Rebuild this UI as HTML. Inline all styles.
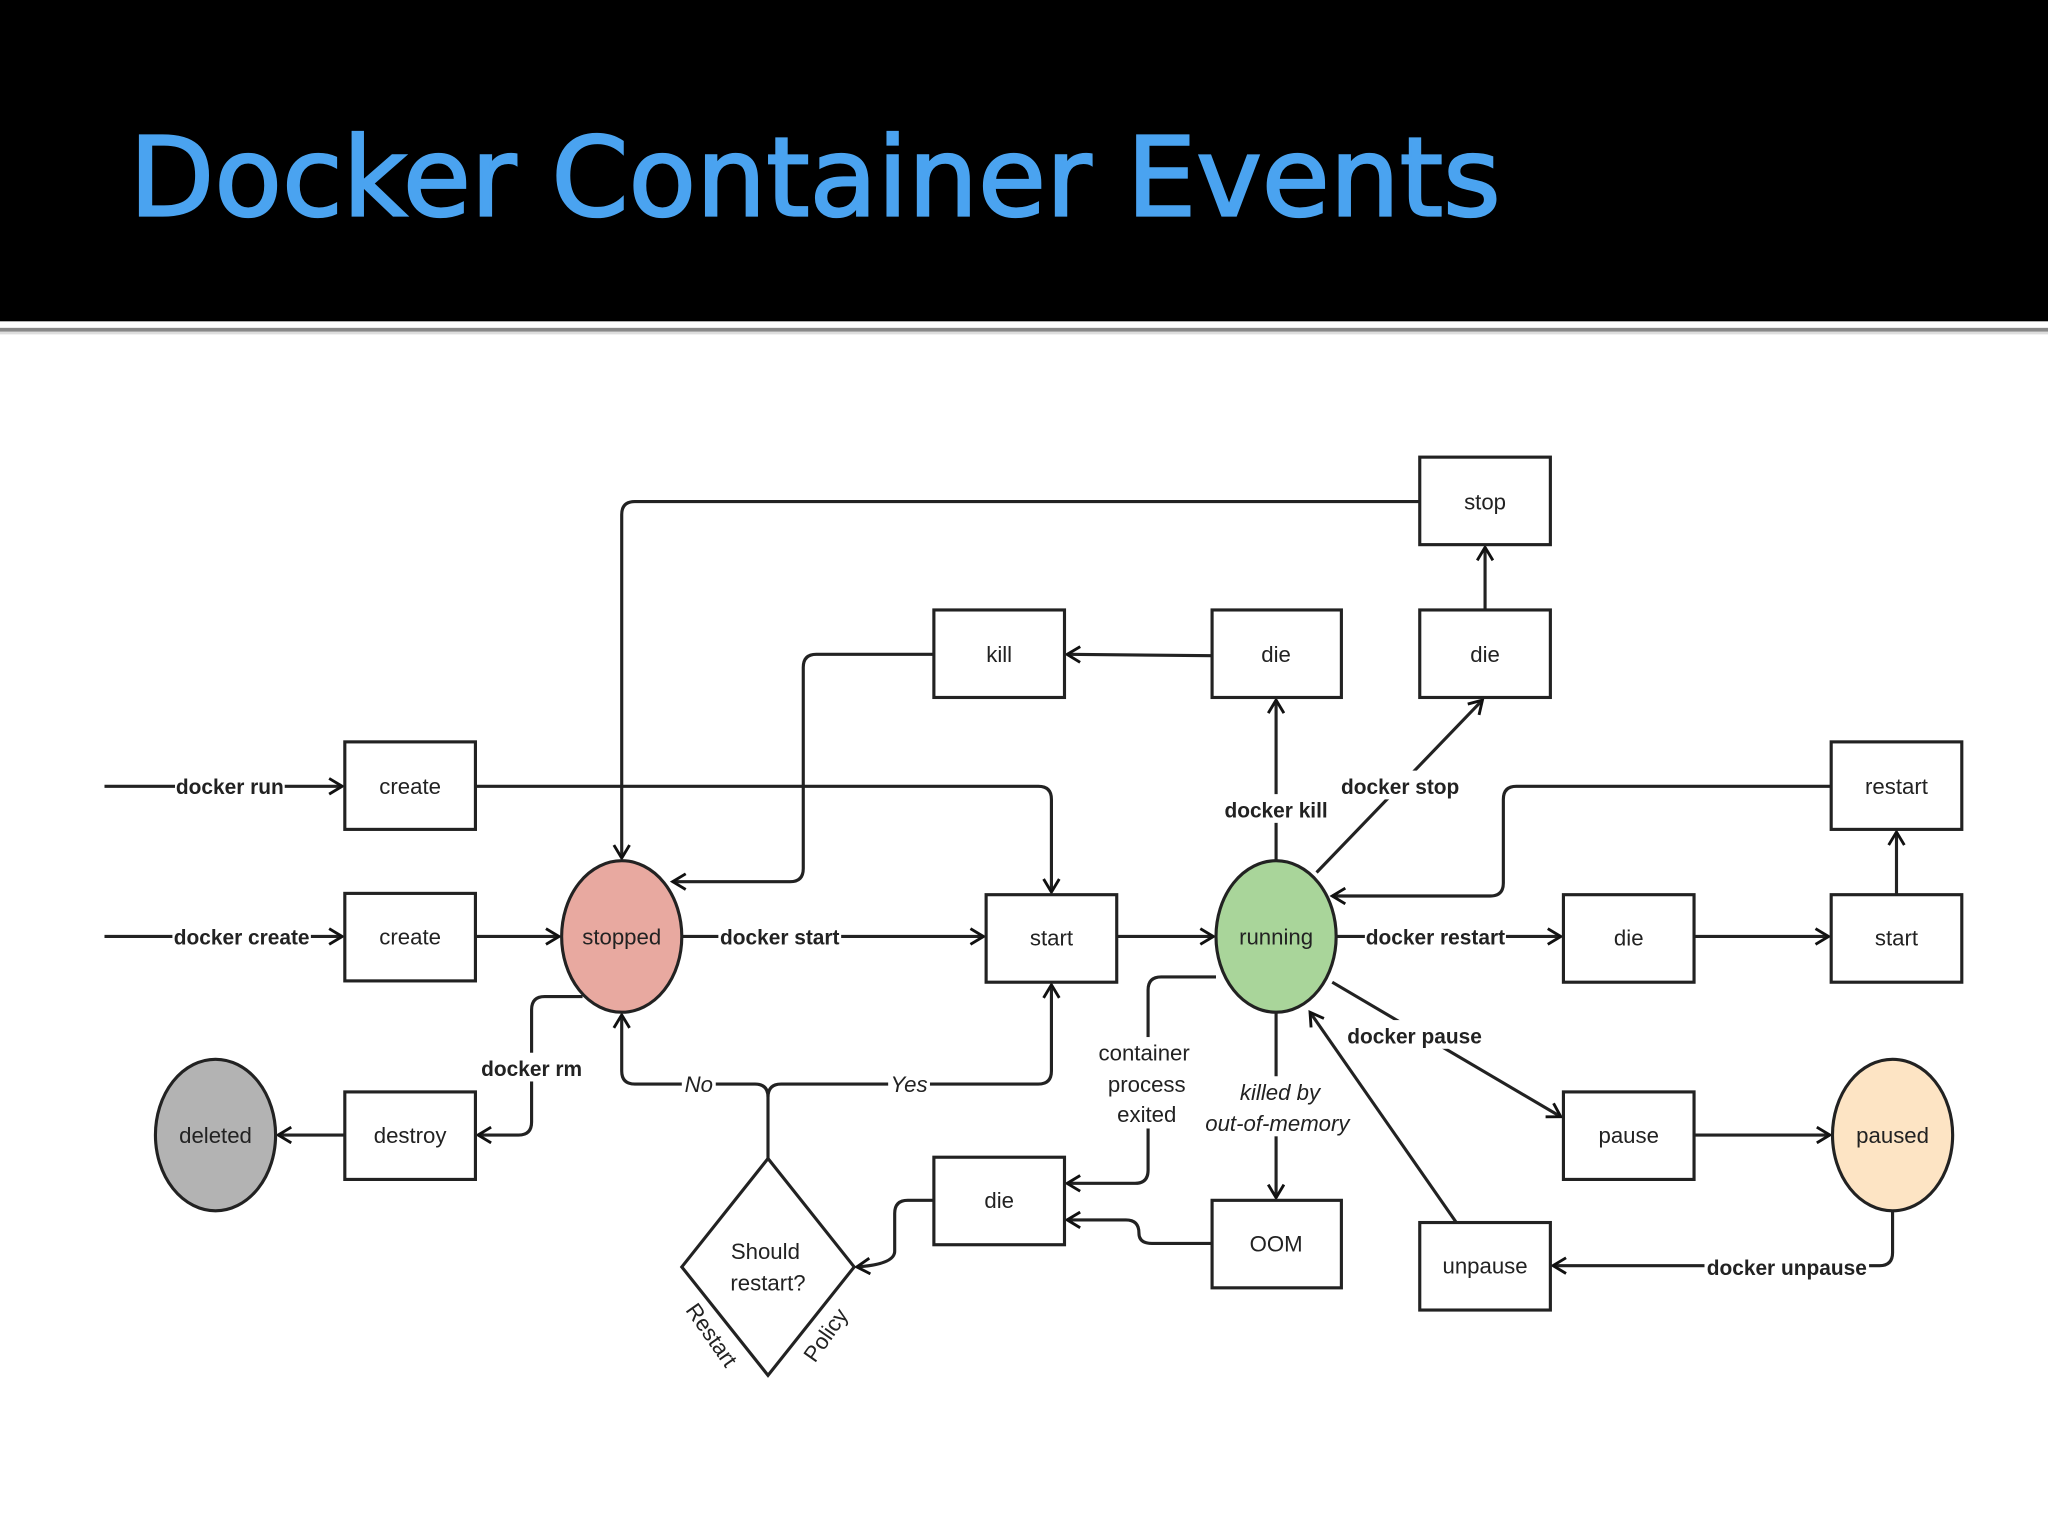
<!DOCTYPE html>
<html><head><meta charset="utf-8"><style>
html,body{margin:0;padding:0;background:#fff}
svg{display:block}
text{font-family:"Liberation Sans",sans-serif;font-size:17px;fill:#222}
.b{font-weight:bold;font-size:16px}
.i{font-style:italic}
</style></head><body>
<svg width="2048" height="1536" viewBox="0 0 1568 1176" xmlns="http://www.w3.org/2000/svg">
<defs>
<marker id="a" markerWidth="14" markerHeight="14" refX="11" refY="7" orient="auto" markerUnits="userSpaceOnUse">
<path d="M1,1 L11,7 L1,13" fill="none" stroke="#111" stroke-width="2.2"/>
</marker>
</defs>
<rect x="0" y="0" width="1568" height="246" fill="#000"/>
<rect x="0" y="251" width="1568" height="3" fill="#888"/>
<rect x="0" y="254" width="1568" height="2" fill="#ddd"/>
<text x="99" y="165" style="font-family:'DejaVu Sans',sans-serif;font-size:84px;fill:#4aa3f0;stroke:#4aa3f0;stroke-width:1.8" textLength="1050" lengthAdjust="spacingAndGlyphs">Docker  Container Events</text>

<g fill="none" stroke="#222" stroke-width="2.4">
<path d="M80,602 H262" marker-end="url(#a)"/>
<path d="M364,602 H795 Q805,602 805,612 V683" marker-end="url(#a)"/>
<path d="M80,717 H262" marker-end="url(#a)"/>
<path d="M364,717 H428" marker-end="url(#a)"/>
<path d="M522,717 H753" marker-end="url(#a)"/>
<path d="M855,717 H929" marker-end="url(#a)"/>
<path d="M1023,717 H1195" marker-end="url(#a)"/>
<path d="M1297,717 H1400" marker-end="url(#a)"/>
<path d="M1452,685 V637" marker-end="url(#a)"/>
<path d="M1402,602 H1161 Q1151,602 1151,612 V676 Q1151,686 1141,686 H1020" marker-end="url(#a)"/>
<path d="M977,659 V536" marker-end="url(#a)"/>
<path d="M928,502 L817,501" marker-end="url(#a)"/>
<path d="M715,501 H625 Q615,501 615,511 V665 Q615,675 605,675 H515" marker-end="url(#a)"/>
<path d="M1008,668 L1135,536" marker-end="url(#a)"/>
<path d="M1137,467 V419" marker-end="url(#a)"/>
<path d="M1087,384 H486 Q476,384 476,394 V657" marker-end="url(#a)"/>
<path d="M446,763 H417 Q407,763 407,773 V859 Q407,869 397,869 H366" marker-end="url(#a)"/>
<path d="M264,869 H213" marker-end="url(#a)"/>
<path d="M1020,752 L1195,855" marker-end="url(#a)"/>
<path d="M1297,869 H1401" marker-end="url(#a)"/>
<path d="M1449,927 V959 Q1449,969 1439,969 H1189" marker-end="url(#a)"/>
<path d="M1115,936 L1003,775" marker-end="url(#a)"/>
<path d="M977,775 V917" marker-end="url(#a)"/>
<path d="M931,748 H889 Q879,748 879,758 V896 Q879,906 869,906 H817" marker-end="url(#a)"/>
<path d="M928,952 H882 Q872,952 872,944 Q872,934 862,934 H817" marker-end="url(#a)"/>
<path d="M715,919 H695 Q685,919 685,929 V958 Q685,968 656,970" marker-end="url(#a)"/>
<path d="M588,887 V840 Q588,830 598,830 H795 Q805,830 805,820 V754" marker-end="url(#a)"/>
<path d="M588,840 Q588,830 578,830 H486 Q476,830 476,820 V777" marker-end="url(#a)"/>
</g>

<g fill="#fff" stroke="#222" stroke-width="2.4">
<rect x="1087" y="350" width="100" height="67"/>
<rect x="928" y="467" width="99" height="67"/>
<rect x="1087" y="467" width="100" height="67"/>
<rect x="715" y="467" width="100" height="67"/>
<rect x="264" y="568" width="100" height="67"/>
<rect x="1402" y="568" width="100" height="67"/>
<rect x="264" y="684" width="100" height="67"/>
<rect x="755" y="685" width="100" height="67"/>
<rect x="1197" y="685" width="100" height="67"/>
<rect x="1402" y="685" width="100" height="67"/>
<rect x="264" y="836" width="100" height="67"/>
<rect x="1197" y="836" width="100" height="67"/>
<rect x="715" y="886" width="100" height="67"/>
<rect x="928" y="919" width="99" height="67"/>
<rect x="1087" y="936" width="100" height="67"/>
<path d="M588,887 L654,970 L588,1053 L522,970 Z"/>
<ellipse cx="476" cy="717" rx="46" ry="58" fill="#e8a9a0"/>
<ellipse cx="977" cy="717" rx="46" ry="58" fill="#a9d59a"/>
<ellipse cx="165" cy="869" rx="46" ry="58" fill="#b3b3b3"/>
<ellipse cx="1449" cy="869" rx="46" ry="58" fill="#fde4c4"/>
</g>

<g text-anchor="middle">
<text x="1137" y="390">stop</text>
<text x="977" y="507">die</text>
<text x="1137" y="507">die</text>
<text x="765" y="507">kill</text>
<text x="314" y="608">create</text>
<text x="1452" y="608">restart</text>
<text x="314" y="723">create</text>
<text x="805" y="724">start</text>
<text x="1247" y="724">die</text>
<text x="1452" y="724">start</text>
<text x="314" y="875">destroy</text>
<text x="1247" y="875">pause</text>
<text x="765" y="925">die</text>
<text x="977" y="958">OOM</text>
<text x="1137" y="975">unpause</text>
<text x="476" y="723">stopped</text>
<text x="977" y="723">running</text>
<text x="165" y="875">deleted</text>
<text x="1449" y="875">paused</text>
<text x="586" y="964">Should</text>
<text x="588" y="988">restart?</text>
</g>

<g text-anchor="middle">
<rect x="134" y="590" width="84" height="22" fill="#fff"/>
<text x="176" y="608" class="b">docker run</text>
<rect x="132" y="705" width="106" height="22" fill="#fff"/>
<text x="185" y="723" class="b">docker create</text>
<rect x="550" y="705" width="94" height="22" fill="#fff"/>
<text x="597" y="723" class="b">docker start</text>
<rect x="1045" y="705" width="108" height="22" fill="#fff"/>
<text x="1099" y="723" class="b">docker restart</text>
<rect x="937" y="608" width="80" height="22" fill="#fff"/>
<text x="977" y="626" class="b">docker kill</text>
<rect x="1027" y="590" width="90" height="22" fill="#fff"/>
<text x="1072" y="608" class="b">docker stop</text>
<rect x="367" y="806" width="80" height="22" fill="#fff"/>
<text x="407" y="824" class="b">docker rm</text>
<rect x="1032" y="781" width="104" height="22" fill="#fff"/>
<text x="1083" y="799" class="b">docker pause</text>
<rect x="1305" y="958" width="126" height="22" fill="#fff"/>
<text x="1368" y="976" class="b">docker unpause</text>
</g>
<g text-anchor="middle">
<rect x="838" y="794" width="80" height="70" fill="#fff"/>
<text x="876" y="812">container</text>
<text x="878" y="836">process</text>
<text x="878" y="859">exited</text>
<rect x="925" y="824" width="106" height="46" fill="#fff"/>
<text x="980" y="842" class="i">killed by</text>
<text x="978" y="866" class="i">out-of-memory</text>
<rect x="522" y="820" width="26" height="20" fill="#fff"/>
<text x="535" y="836" class="i">No</text>
<rect x="680" y="820" width="32" height="20" fill="#fff"/>
<text x="696" y="836" class="i">Yes</text>
<text x="545" y="1028" transform="rotate(55 545 1022)">Restart</text>
<text x="632" y="1028" transform="rotate(-55 632 1022)">Policy</text>
</g>
</svg>
</body></html>
